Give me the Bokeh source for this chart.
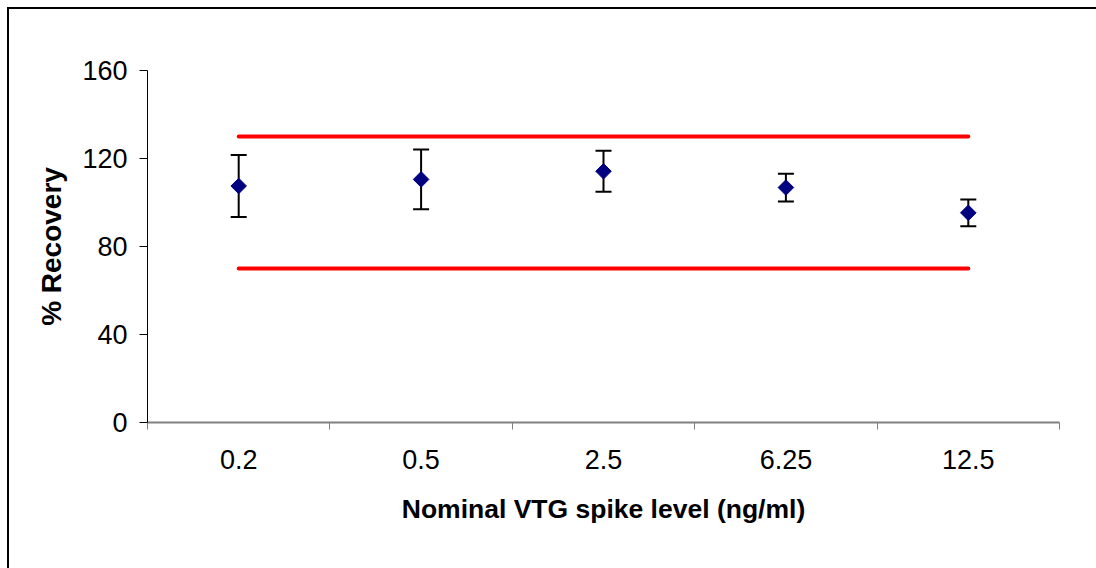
import numpy as np
from bokeh.plotting import figure
from bokeh.models import ColumnDataSource, Range1d, FixedTicker, Whisker, TeeHead
from bokeh.embed import file_html
from bokeh.resources import INLINE

# ---- data ----
spike_levels = ["0.2", "0.5", "2.5", "6.25", "12.5"]
recovery_mean = [107.5, 110.5, 114.2, 106.8, 95.3]
recovery_err = [14.1, 13.6, 9.3, 6.3, 6.1]
upper_limit = 130
lower_limit = 70
y_ticks = [0, 40, 80, 120, 160]

FONT = "Liberation Sans"

xpos = [i + 0.5 for i in range(len(spike_levels))]
src = ColumnDataSource(dict(
    x=xpos,
    y=recovery_mean,
    upper=[m + e for m, e in zip(recovery_mean, recovery_err)],
    lower=[m - e for m, e in zip(recovery_mean, recovery_err)],
))

p = figure(width=1096, height=568, output_backend="svg", toolbar_location=None,
           x_range=Range1d(0, len(spike_levels)), y_range=Range1d(0, 160),
           min_border_left=147, min_border_right=37, min_border_top=70,
           min_border_bottom=146)
# outer chart-area border (top and left edges visible in the reference)
p.styles = {
    "background-color": "white",
    "background-image": "linear-gradient(black, black), linear-gradient(black, black)",
    "background-position": "7px 7px, 7px 7px",
    "background-size": "100% 2px, 2px 100%",
    "background-repeat": "no-repeat, no-repeat",
}
p.background_fill_color = "white"
p.border_fill_color = None
p.outline_line_color = None
p.xgrid.visible = False
p.ygrid.visible = False

# limit lines
p.line([xpos[0], xpos[-1]], [upper_limit, upper_limit], line_color="#FF0000",
       line_width=4, line_cap="round")
p.line([xpos[0], xpos[-1]], [lower_limit, lower_limit], line_color="#FF0000",
       line_width=4, line_cap="round")

# error bars
p.add_layout(Whisker(source=src, base="x", upper="upper", lower="lower",
                     dimension="height", line_color="black", line_width=2,
                     upper_head=TeeHead(size=16, line_color="black", line_width=2),
                     lower_head=TeeHead(size=16, line_color="black", line_width=2)))

# points
p.scatter("x", "y", source=src, marker="square", size=11, angle=np.pi / 4,
          fill_color="#000080", line_color="#000080")

# x axis
xa = p.xaxis[0]
xa.ticker = FixedTicker(ticks=xpos, minor_ticks=list(range(len(spike_levels) + 1)))
xa.major_label_overrides = {x: lab for x, lab in zip(xpos, spike_levels)}
xa.major_tick_out = 0
xa.major_tick_in = 0
xa.minor_tick_out = 7
xa.minor_tick_in = 0
xa.minor_tick_line_color = "#808080"
xa.axis_line_color = "#808080"
xa.axis_line_width = 2
xa.major_label_text_font = FONT
xa.major_label_text_font_size = "27px"
xa.major_label_text_color = "black"
xa.major_label_standoff = 20
xa.axis_label = "Nominal VTG spike level (ng/ml)"
xa.axis_label_text_font = FONT
xa.axis_label_text_font_size = "26.5px"
xa.axis_label_text_font_style = "bold"
xa.axis_label_text_color = "black"
xa.axis_label_standoff = 22

# y axis
ya = p.yaxis[0]
ya.ticker = FixedTicker(ticks=y_ticks, minor_ticks=[])
ya.major_tick_out = 8
ya.major_tick_in = 0
ya.major_tick_line_color = "black"
ya.axis_line_color = "black"
ya.axis_line_width = 1
ya.major_label_text_font = FONT
ya.major_label_text_font_size = "27px"
ya.major_label_text_color = "black"
ya.major_label_standoff = 12
ya.axis_label = "% Recovery"
ya.axis_label_text_font = FONT
ya.axis_label_text_font_size = "28px"
ya.axis_label_text_font_style = "bold"
ya.axis_label_text_color = "black"
ya.axis_label_standoff = 12

open("out.html", "w").write(file_html(p, INLINE))
